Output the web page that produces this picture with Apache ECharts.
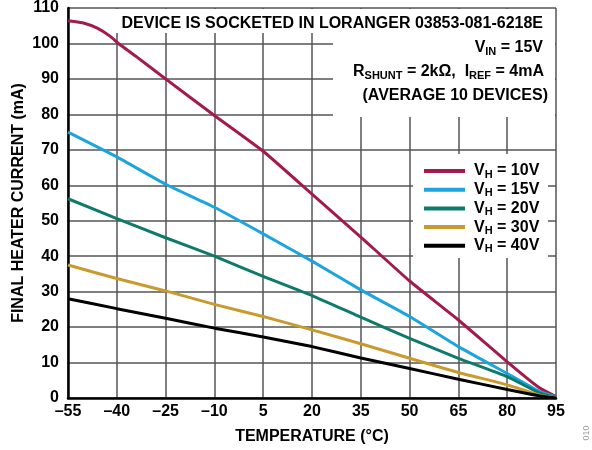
<!DOCTYPE html>
<html>
<head>
<meta charset="utf-8">
<script src="https://cdn.jsdelivr.net/npm/echarts@6/dist/echarts.min.js"></script>
<style>html,body{margin:0;padding:0;background:#fff}#c{width:592px;height:450px}</style>
</head>
<body>
<div id="c"></div>
<script>
const temps10 = [-55, -50, -46, -42, -39.5, -34, -25, -10, 5, 20, 35, 50, 65, 80, 90, 95];
const vh10 = [106.4, 105.7, 104.3, 102.0, 100.0, 96.3, 90.0, 79.7, 69.6, 57.5, 45.4, 33.0, 22.0, 10.2, 2.8, 0.4];
const temps = [-55, -40, -25, -10, 5, 20, 35, 50, 65, 80, 90, 95];
const vh15 = [75.0, 68.0, 60.3, 53.8, 46.3, 38.6, 30.5, 23.0, 14.5, 6.9, 1.8, 0.3];
const vh20 = [56.2, 50.6, 45.2, 40.0, 34.3, 28.9, 22.8, 16.8, 11.2, 6.0, 1.4, 0.2];
const vh30 = [37.5, 33.7, 30.2, 26.4, 23.0, 19.2, 15.3, 11.2, 7.2, 3.7, 0.8, 0.1];
const vh40 = [28.0, 25.2, 22.5, 19.7, 17.2, 14.5, 11.3, 8.3, 5.3, 2.4, 0.6, 0.0];
const seriesNames = ['10V', '15V', '20V', '30V', '40V'];
const colors = ['#A31A4C', '#1BA4DE', '#0D7A6C', '#C99A2E', '#000000'];
const xTicks = [-55, 95, 15];
const yTicks = [0, 110, 10];

const pair = (xs, ys) => xs.map((x, i) => [x, ys[i]]);
const allData = [pair(temps10, vh10), pair(temps, vh15), pair(temps, vh20), pair(temps, vh30), pair(temps, vh40)];
const FONT = 'Liberation Sans, Arial, sans-serif';

const chart = echarts.init(document.getElementById('c'), null, {renderer: 'canvas'});
const sub = {fontSize: 11, fontWeight: 'bold', fontFamily: FONT, color: '#000', lineHeight: 10, verticalAlign: 'bottom'};
const main = {fontSize: 16, fontWeight: 'bold', fontFamily: FONT, color: '#000', lineHeight: 18};

chart.setOption({
  animation: false,
  color: colors,
  grid: {left: 68, right: 36, top: 8, bottom: 52},
  xAxis: {
    type: 'value', min: xTicks[0], max: xTicks[1], interval: xTicks[2],
    name: 'TEMPERATURE (°C)', nameLocation: 'middle', nameGap: 31, nameMoveOverlap: false,
    nameTextStyle: {fontSize: 16, fontWeight: 'bold', fontFamily: FONT, color: '#000'},
    axisLine: {show: true, onZero: false, lineStyle: {color: '#000', width: 2.5}},
    axisTick: {show: false},
    axisLabel: {margin: 6, fontSize: 16, fontWeight: 'bold', fontFamily: FONT, color: '#000',
      formatter: v => (v < 0 ? '\u2013' + Math.abs(v) : String(v))},
    splitLine: {show: true, lineStyle: {color: '#555', width: 1.5}}
  },
  yAxis: {
    type: 'value', min: yTicks[0], max: yTicks[1], interval: yTicks[2],
    name: 'FINAL HEATER CURRENT (mA)', nameLocation: 'middle', nameGap: 41, nameMoveOverlap: false,
    nameTextStyle: {fontSize: 16, fontWeight: 'bold', fontFamily: FONT, color: '#000'},
    axisLine: {show: true, onZero: false, lineStyle: {color: '#000', width: 2.5}},
    axisTick: {show: false},
    axisLabel: {margin: 9, fontSize: 16, fontWeight: 'bold', fontFamily: FONT, color: '#000'},
    splitLine: {show: true, lineStyle: {color: '#555', width: 1.5}}
  },
  legend: {
    orient: 'vertical', left: 424, top: 163, itemWidth: 41, itemHeight: 4, itemGap: 1.7,
    icon: 'rect', padding: 0, data: seriesNames,
    formatter: n => '{a|V}{s|H}{a| = ' + n + '}',
    textStyle: {rich: {a: main, s: sub}, padding: [0, 0, 0, 4]}
  },
  graphic: [
    {type: 'rect', z: 1, shape: {x: 112, y: 9, width: 443, height: 24}, style: {fill: '#fff'}},
    {type: 'rect', z: 1, shape: {x: 333, y: 33, width: 222, height: 84}, style: {fill: '#fff'}},
    {type: 'rect', z: 1, shape: {x: 413, y: 154, width: 135, height: 104}, style: {fill: '#fff'}},
    {type: 'text', z: 5, x: 543, y: 24, style: {text: 'DEVICE IS SOCKETED IN LORANGER 03853-081-6218E',
      align: 'right', verticalAlign: 'middle', font: 'bold 16px ' + FONT, fill: '#000'}},
    {type: 'text', z: 5, x: 543, y: 48, style: {text: '{a|V}{s|IN}{a| = 15V}', align: 'right', verticalAlign: 'middle',
      rich: {a: main, s: sub}}},
    {type: 'text', z: 5, x: 544, y: 72, style: {text: '{a|R}{s|SHUNT}{a| = 2k\u03A9,  I}{s|REF}{a| = 4mA}', align: 'right', verticalAlign: 'middle',
      rich: {a: main, s: sub}}},
    {type: 'text', z: 5, x: 548, y: 96, style: {text: '(AVERAGE 10 DEVICES)',
      align: 'right', verticalAlign: 'middle', font: 'bold 16px ' + FONT, fill: '#000'}},
    {type: 'text', z: 5, x: 587, y: 433, rotation: Math.PI / 2, style: {text: '010',
      align: 'center', verticalAlign: 'middle', font: '9px ' + FONT, fill: '#999'}}
  ],
  series: seriesNames.map((n, i) => ({
    name: n, type: 'line', data: allData[i], symbol: 'none', smooth: 0.15,
    lineStyle: {width: 3, color: colors[i]}, z: 3
  }))
});
</script>
</body>
</html>
